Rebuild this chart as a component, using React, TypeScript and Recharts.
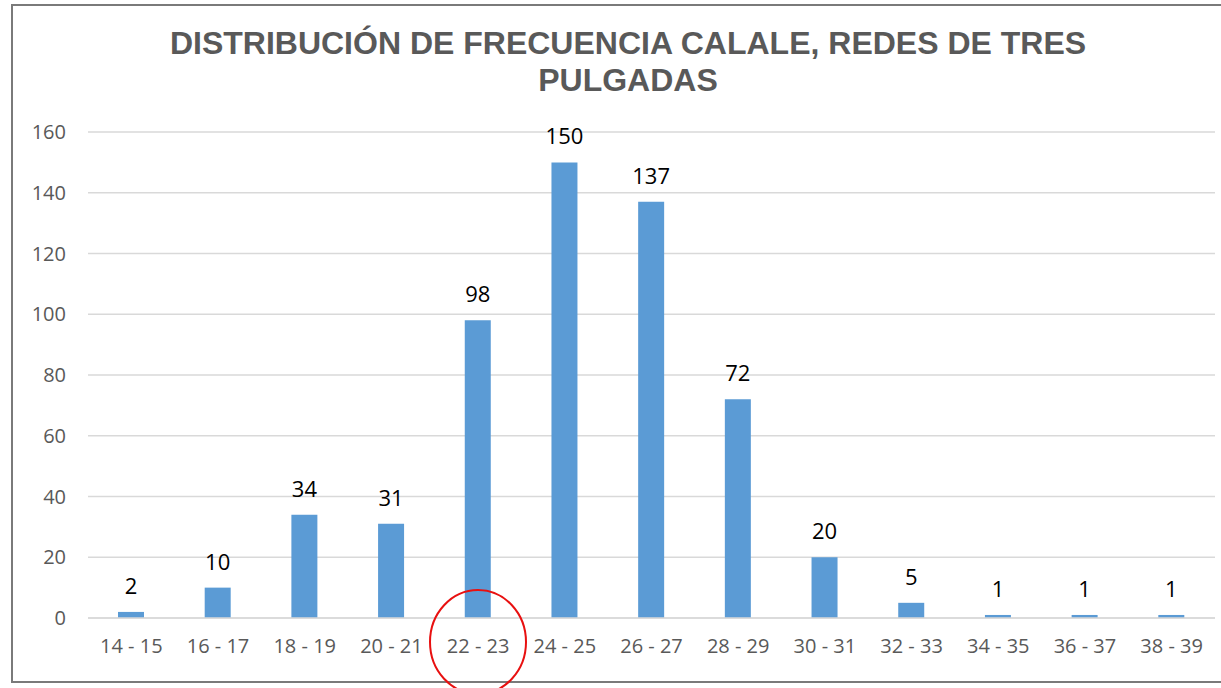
import { BarChart, Bar, XAxis, YAxis, CartesianGrid, LabelList } from 'recharts'

const categories = ['14 - 15', '16 - 17', '18 - 19', '20 - 21', '22 - 23', '24 - 25', '26 - 27', '28 - 29', '30 - 31', '32 - 33', '34 - 35', '36 - 37', '38 - 39']
const frequencies = [2, 10, 34, 31, 98, 150, 137, 72, 20, 5, 1, 1, 1]
const yTicks = [0, 20, 40, 60, 80, 100, 120, 140, 160]

const data = categories.map((range, i) => ({ range, value: frequencies[i] }))

const titleFont = '"Liberation Sans", Arial, sans-serif'
const tickFont = '"Open Sans", sans-serif'

export default function App() {
  return (
    <div style={{ position: 'absolute', left: 0, top: 0, width: 1221, height: 688, overflow: 'hidden', background: 'white', fontFamily: titleFont }}>
      <div style={{ position: 'absolute', left: 11, top: 4, width: 1230, height: 675, borderLeft: '2px solid #7a7a7a', borderTop: '2px solid #7a7a7a', borderBottom: '2px solid #7a7a7a' }} />
      <div style={{ position: 'absolute', left: 0, top: 25, width: 1256, textAlign: 'center', fontWeight: 'bold', fontSize: 32, lineHeight: '37px', color: '#595959' }}>
        DISTRIBUCIÓN DE FRECUENCIA CALALE, REDES DE TRES<br />PULGADAS
      </div>
      <div style={{ position: 'absolute', left: 0, top: 0, fontFamily: tickFont }}>
        <BarChart width={1221} height={688} data={data} margin={{ top: 132, right: 6, left: 0, bottom: 40 }}>
          <CartesianGrid vertical={false} stroke="#d9d9d9" strokeWidth={1.5} />
          <XAxis
            dataKey="range"
            height={30}
            tickLine={false}
            tickSize={0}
            tickMargin={21}
            axisLine={{ stroke: '#d9d9d9', strokeWidth: 1.5 }}
            tick={{ fill: '#595959', fontSize: 20, fontFamily: tickFont }}
            interval={0}
          />
          <YAxis
            width={88}
            domain={[0, 160]}
            ticks={yTicks}
            tickLine={false}
            axisLine={false}
            tickSize={0}
            tickMargin={22}
            tick={{ fill: '#595959', fontSize: 20, fontFamily: tickFont }}
          />
          <Bar dataKey="value" fill="#5B9BD5" barSize={26} isAnimationActive={false}>
            <LabelList dataKey="value" position="top" offset={18} fill="#000" fontSize={22} fontFamily={tickFont} />
          </Bar>
        </BarChart>
      </div>
      <svg style={{ position: 'absolute', left: 0, top: 0 }} width={1221} height={688}>
        <ellipse cx={478} cy={642} rx={48} ry={52} fill="none" stroke="#e81010" strokeWidth={2} />
      </svg>
    </div>
  )
}
